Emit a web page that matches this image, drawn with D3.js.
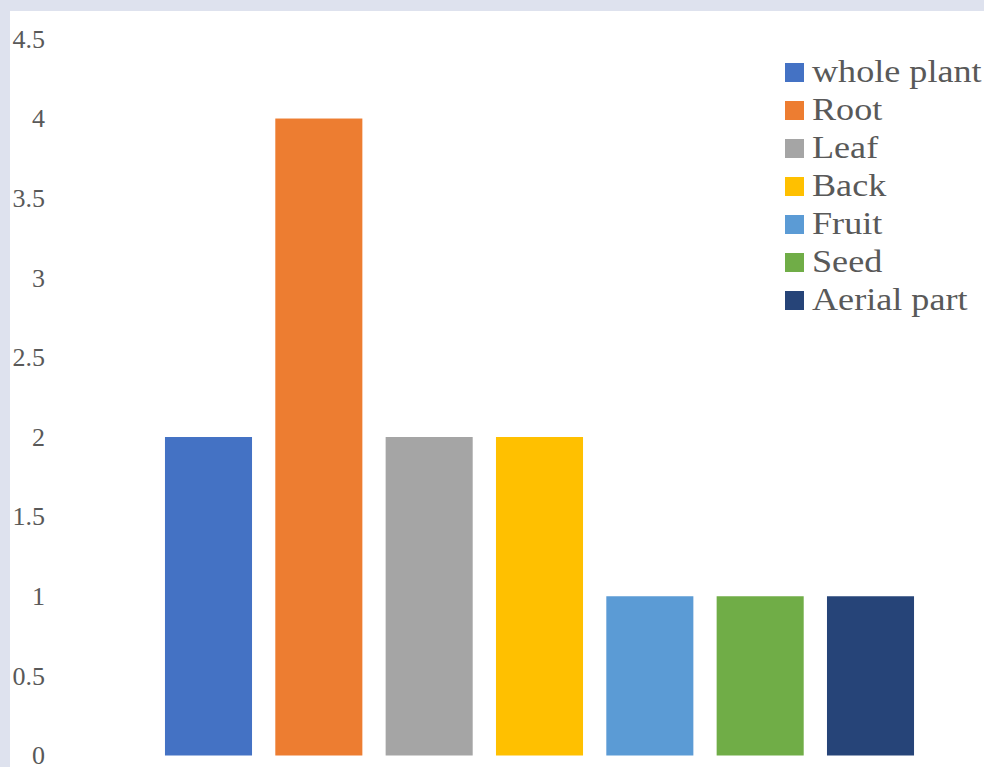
<!DOCTYPE html>
<html>
<head>
<meta charset="utf-8">
<script src="https://cdn.jsdelivr.net/npm/d3@7"></script>
<style>
    body { margin: 0; background: #dee2ee; }
    #chart { position: absolute; left: 10px; top: 11px; width: 974px; height: 756px; background: #fff; }
    svg { position: absolute; left: 0; top: 0; }
</style>
</head>
<body>
<div id="chart"></div>
<svg id="svg" width="984" height="767"></svg>
<script>
// plant parts and their counts
var categories = ["whole plant", "Root", "Leaf", "Back", "Fruit", "Seed", "Aerial part"];
var values = [2, 4, 2, 2, 1, 1, 1];
var colors = ["#4472c4", "#ed7d31", "#a5a5a5", "#ffc000", "#5b9bd5", "#70ad47", "#264478"];
var yTicks = [0, 0.5, 1, 1.5, 2, 2.5, 3, 3.5, 4, 4.5];

var svg = d3.select("#svg");
var textColor = "#595959";
var font = "'Liberation Serif', 'Times New Roman', serif";

var x = d3.scaleBand()
    .domain(categories)
    .range([109.8, 969.2])
    .paddingInner(0.211)
    .paddingOuter(0.5);

var y = d3.scaleLinear()
    .domain([0, 4.5])
    .range([755.5, 38.9]);

// y axis, labels only
var yAxis = svg.append("g")
    .attr("transform", "translate(45,0)")
    .call(d3.axisLeft(y).tickValues(yTicks).tickSize(0).tickPadding(0)
        .tickFormat(function (d) { return d3.format("")(d); }));
yAxis.select(".domain").remove();
yAxis.selectAll("text")
    .attr("fill", textColor)
    .style("font-family", font)
    .style("font-size", "26px");

// bars
svg.selectAll(".bar")
    .data(values)
    .enter().append("rect")
    .attr("class", "bar")
    .attr("x", function (d, i) { return x(categories[i]); })
    .attr("width", x.bandwidth())
    .attr("y", function (d) { return y(d); })
    .attr("height", function (d) { return y(0) - y(d); })
    .attr("fill", function (d, i) { return colors[i]; });

// legend
var legend = svg.append("g").attr("transform", "translate(785,63)");
var item = legend.selectAll(".item")
    .data(categories)
    .enter().append("g")
    .attr("class", "item")
    .attr("transform", function (d, i) { return "translate(0," + (i * 38) + ")"; });

item.append("rect")
    .attr("width", 19)
    .attr("height", 19)
    .attr("fill", function (d, i) { return colors[i]; });

item.append("text")
    .attr("transform", "translate(27,19) scale(1.13,1)")
    .attr("fill", textColor)
    .style("font-family", font)
    .style("font-size", "32px")
    .text(function (d) { return d; });
</script>
</body>
</html>
